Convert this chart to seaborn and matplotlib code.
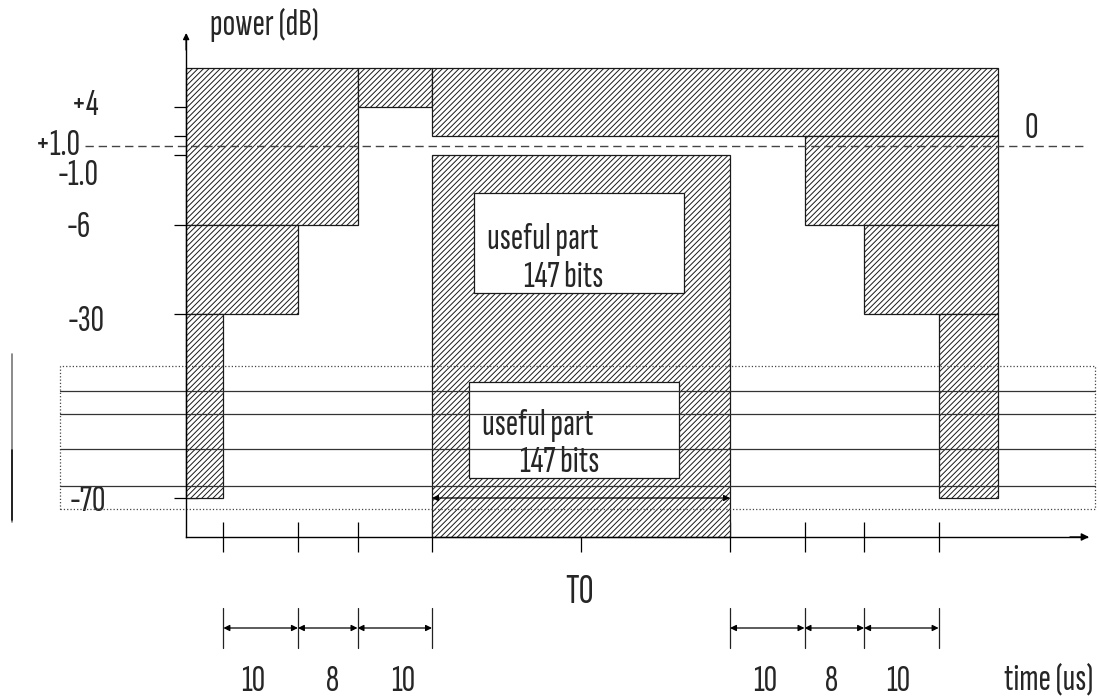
import numpy as np
import pandas as pd
import matplotlib
matplotlib.use("Agg")
import matplotlib.pyplot as plt
from matplotlib.patches import Rectangle
import seaborn as sns

# ---------------- data ----------------
level_db = [4, 1.0, -1.0, -6, -30, -70]
level_labels = ["+4", "+1.0", "-1.0", "-6", "-30", "-70"]
mask_top_db = 8
floor_db = -80
T0 = 40
tick_times = [-28, -18, -10, 0, 20, 40, 50, 58, 68]

# power/time mask segments (time units, dB)
seg_t_start = [-33, -10, -33, -33, 0, 0, 50, 58, 68]
seg_t_end = [-10, 0, -18, -28, 76, 40, 76, 76, 76]
seg_db_low = [-6, 4, -30, -70, 1, -80, -6, -30, -70]
seg_db_high = [8, 8, -6, -30, 8, -1, 1, -6, -30]

# useful-part boxes
useful_t = [5.6, 33.8]
useful_db = [-24.3, -3.7]
useful2_t = [5.0, 33.2]
useful2_db = [-65.7, -44.8]

# overlaid frame lines
overlay_t = [-50, 89]
overlay_db = [-46.7, -51.7, -59.3, -67.4]
overlay_box_db = [-72.8, -41.3]

# interval widths (us)
left_edges = [-28, -18, -10, 0]
right_edges = [40, 50, 58, 68]
interval_labels = ["10", "8", "10"]

# ---------------- schematic dB scale ----------------
anchor_db = np.array([-200, -80, -70, -30, -6, -1, 0, 1, 4, 8, 40], dtype=float)
anchor_px = np.array([1005, 537, 498, 314, 225, 155, 145.5, 136, 107, 68, -244], dtype=float)


def fwd(v):
    return -np.interp(np.asarray(v, dtype=float), anchor_db, anchor_px)


def inv(v):
    return np.interp(np.asarray(v, dtype=float), -anchor_px, anchor_db)


SCALE = 7.45
ORIGIN = 432.0


def px_t(px):
    return (px - ORIGIN) / SCALE


def px_db(py):
    return float(inv(-py))


sns.set_theme(style="white")
FONT = ["Sofia Sans Extra Condensed", "Pragati Narrow", "DejaVu Sans"]
plt.rcParams["font.family"] = FONT
plt.rcParams["hatch.linewidth"] = 0.7

fig = plt.figure(figsize=(10.99, 6.98), dpi=100)
ax = fig.add_axes([0, 0, 1, 1])
ax.set_facecolor("white")
ax.set_yscale("function", functions=(fwd, inv))
ax.set_xlim(px_t(0), px_t(1099))
ax.set_ylim(px_db(698), px_db(0))

# mask bars
lo = np.array(seg_db_low, dtype=float)
hi = np.array(seg_db_high, dtype=float)
ts = np.array(seg_t_start, dtype=float)
te = np.array(seg_t_end, dtype=float)
ax.bar(ts, hi - lo, bottom=lo, width=te - ts, align="edge",
       facecolor="white", edgecolor="#1a1a1a", linewidth=0.9,
       hatch="//////", zorder=1)

# useful part boxes
for (t0, t1), (d0, d1) in [(useful_t, useful_db), (useful2_t, useful2_db)]:
    ax.add_patch(Rectangle((t0, d0), t1 - t0, d1 - d0, facecolor="white",
                           edgecolor="#1a1a1a", linewidth=0.9, zorder=2))

# overlay frame
ax.add_patch(Rectangle((overlay_t[0], overlay_box_db[0]), overlay_t[1] - overlay_t[0],
                       overlay_box_db[1] - overlay_box_db[0], facecolor="none",
                       edgecolor="#444444", linewidth=0.9, linestyle=":", zorder=4))
lines_df = pd.DataFrame({
    "t": [t for _ in overlay_db for t in overlay_t],
    "db": [d for d in overlay_db for _ in overlay_t],
    "line": [i for i, _ in enumerate(overlay_db) for _ in overlay_t],
})
sns.lineplot(data=lines_df, x="t", y="db", units="line", estimator=None,
             color="#333333", linewidth=0.9, ax=ax, zorder=4, legend=False)

# 0 dB dashed reference line
zero_df = pd.DataFrame({"t": [px_t(85), px_t(1085)], "db": [0, 0]})
sns.lineplot(data=zero_df, x="t", y="db", color="#444444", linewidth=1.0,
             dashes=False, ax=ax, zorder=4, legend=False)
ax.lines[-1].set_dashes((6, 3.5))

# axes as spines
for s in ["top", "right"]:
    ax.spines[s].set_visible(False)
ax.spines["bottom"].set_position(("data", floor_db))
ax.spines["left"].set_position(("data", seg_t_start[0]))
ax.spines["bottom"].set_bounds(seg_t_start[0], px_t(1087))
ax.spines["left"].set_bounds(floor_db, px_db(35))
for s in ["bottom", "left"]:
    ax.spines[s].set_color("black")
    ax.spines[s].set_linewidth(1.0)
    ax.spines[s].set_zorder(5)
ax.set_xticks(tick_times)
ax.set_xticklabels([])
ax.set_yticks(level_db)
ax.set_yticklabels([])
ax.tick_params(axis="x", direction="inout", length=21, width=0.9, color="black",
               bottom=True)
ax.tick_params(axis="y", direction="inout", length=17, width=0.9, color="black",
               left=True)
ax.set_xlabel("")
ax.set_ylabel("")
ax.minorticks_off()

# arrow heads
ax.annotate("", xy=(seg_t_start[0], px_db(33)), xytext=(seg_t_start[0], px_db(50)),
            arrowprops=dict(arrowstyle="-|>", color="black", lw=1.0,
                            mutation_scale=9, shrinkA=0, shrinkB=0), zorder=6)
ax.annotate("", xy=(px_t(1089), floor_db), xytext=(px_t(1070), floor_db),
            arrowprops=dict(arrowstyle="-|>", color="black", lw=1.0,
                            mutation_scale=11, shrinkA=0, shrinkB=0), zorder=6)

# T0 double arrow at -70 dB
ax.annotate("", xy=(T0, -70), xytext=(0, -70),
            arrowprops=dict(arrowstyle="<|-|>", color="black", lw=0.9,
                            mutation_scale=9, shrinkA=0, shrinkB=0), zorder=6)

# interval dimension arrows below the axis
trans = ax.get_xaxis_transform()
yf = lambda py: 1 - py / 698.0
for edges in (left_edges, right_edges):
    for e in edges:
        ax.plot([e, e], [yf(608), yf(648)], transform=trans, color="#222222",
                lw=0.9, zorder=6)
    for a, b in zip(edges[:-1], edges[1:]):
        ax.annotate("", xy=(b, yf(628)), xytext=(a, yf(628)), xycoords=trans,
                    textcoords=trans,
                    arrowprops=dict(arrowstyle="<|-|>", color="black", lw=0.9,
                                    mutation_scale=9, shrinkA=0, shrinkB=0))

FS = 27
left_label_px = [253, 333, 403]
right_label_px = [765, 832, 898]
for lab, px in zip(interval_labels, left_label_px):
    ax.text(px_t(px), yf(691), lab, transform=trans, ha="center", va="baseline",
            fontsize=FS)
for lab, px in zip(interval_labels, right_label_px):
    ax.text(px_t(px), yf(691), lab, transform=trans, ha="center", va="baseline",
            fontsize=FS)

# level labels
label_right_px = [99, 81, 99, 91, 105, 106]
label_base_py = [115, 155, 185, 237, 331, 511]
for lab, rx, by in zip(level_labels, label_right_px, label_base_py):
    ax.text(px_t(rx), px_db(by), lab, ha="right", va="baseline", fontsize=FS)

ax.text(px_t(1031), px_db(138), "0", ha="center", va="baseline", fontsize=FS)
ax.text(px_t(210), px_db(35), "power (dB)", ha="left", va="baseline", fontsize=FS)
ax.text(px_t(1093), yf(689), "time (us)", transform=trans, ha="right", va="baseline",
        fontsize=FS)
ax.text(px_t(580), yf(603), "T0", transform=trans, ha="center", va="baseline",
        fontsize=30)

ax.text(px_t(487), px_db(249), "useful part", ha="left", va="baseline", fontsize=FS, zorder=7)
ax.text(px_t(524), px_db(287), "147 bits", ha="left", va="baseline", fontsize=FS, zorder=7)
ax.text(px_t(482), px_db(435), "useful part", ha="left", va="baseline", fontsize=FS, zorder=7)
ax.text(px_t(520), px_db(472), "147 bits", ha="left", va="baseline", fontsize=FS, zorder=7)

# scan artifact: vertical bar at the far left
ax.plot([px_t(12), px_t(12)], [px_db(354), px_db(522)], color="#777777", lw=1.2, zorder=3)
ax.plot([px_t(12), px_t(12)], [px_db(450), px_db(520)], color="#111111", lw=1.2, zorder=3)

fig.savefig("out.png", dpi=100)
